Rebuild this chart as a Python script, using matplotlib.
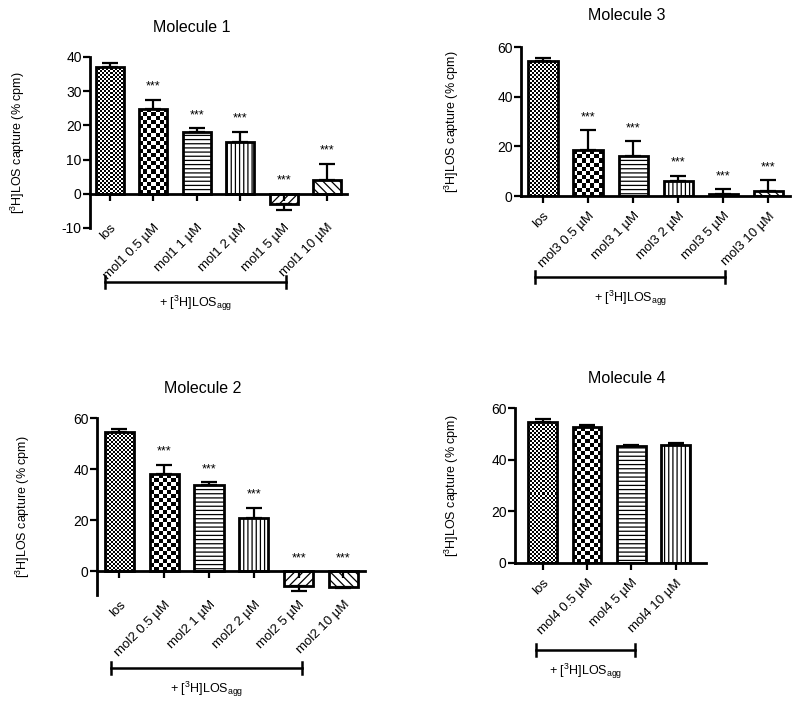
# [3H]LOS capture bar charts, four molecules

import numpy as np
import matplotlib
matplotlib.use("Agg")
import matplotlib.pyplot as plt
import matplotlib.transforms as mtransforms

plt.rcParams['font.family'] = ['Liberation Sans', 'DejaVu Sans']
plt.rcParams['mathtext.fontset'] = 'custom'
plt.rcParams['mathtext.rm'] = 'Liberation Sans'
plt.rcParams['mathtext.it'] = 'Liberation Sans:italic'
plt.rcParams['mathtext.bf'] = 'Liberation Sans:bold'
plt.rcParams['hatch.linewidth'] = 0.9
plt.rcParams['axes.unicode_minus'] = False

# ---- data ----
labels1 = ['los', 'mol1 0.5 µM', 'mol1 1 µM', 'mol1 2 µM', 'mol1 5 µM', 'mol1 10 µM']
mean1 = [37.2, 24.9, 18.2, 15.2, -3.1, 4.1]
err1 = [1.0, 2.6, 0.9, 3.0, 1.6, 4.7]
stars1 = ['', '***', '***', '***', '***', '***']

labels2 = ['los', 'mol2 0.5 µM', 'mol2 1 µM', 'mol2 2 µM', 'mol2 5 µM', 'mol2 10 µM']
mean2 = [54.7, 38.0, 33.6, 20.6, -5.7, -6.1]
err2 = [1.0, 3.7, 1.2, 4.2, 2.1, 0.4]
stars2 = ['', '***', '***', '***', '***', '***']

labels3 = ['los', 'mol3 0.5 µM', 'mol3 1 µM', 'mol3 2 µM', 'mol3 5 µM', 'mol3 10 µM']
mean3 = [54.5, 18.5, 16.1, 5.9, 0.8, 2.0]
err3 = [0.9, 7.9, 5.9, 2.3, 1.9, 4.3]
stars3 = ['', '***', '***', '***', '***', '***']

labels4 = ['los', 'mol4 0.5 µM', 'mol4 5 µM', 'mol4 10 µM']
mean4 = [54.5, 52.5, 45.4, 45.6]
err4 = [1.1, 0.8, 0.2, 0.9]
stars4 = ['', '', '', '']

# fill style per bar position: ('chk', cell px) or a hatch string
fills = [('chk', 2), ('chk', 4), '----', '||||', '////', '\\\\\\\\']

W, H = 800, 710
fig = plt.figure(figsize=(W / 100, H / 100), dpi=100)

# layout in pixels: axes box (left, right, top, bottom), limits, ticks, etc.
panels = [
    dict(title='Molecule 1', labels=labels1, mean=mean1, err=err1, stars=stars1,
         box=(90, 347, 57, 228), xlim=(-0.46, 5.46), ylim=(-10, 40),
         yticks=[-10, 0, 10, 20, 30, 40], pad=15, title_xy=(192, 28),
         ylab_x=18, brk_y=282, brk=(-0.12, 4.05)),
    dict(title='Molecule 3', labels=labels3, mean=mean3, err=err3, stars=stars3,
         box=(521, 790, 47, 196), xlim=(-0.49, 5.48), ylim=(0, 60),
         yticks=[0, 20, 40, 60], pad=5, title_xy=(627, 15),
         ylab_x=452, brk_y=277, brk=(-0.17, 4.04)),
    dict(title='Molecule 2', labels=labels2, mean=mean2, err=err2, stars=stars2,
         box=(97, 365, 418, 595), xlim=(-0.5, 5.48), ylim=(-9.4, 60),
         yticks=[0, 20, 40, 60], pad=15, title_xy=(203, 388),
         ylab_x=23, brk_y=668, brk=(-0.19, 4.08)),
    dict(title='Molecule 4', labels=labels4, mean=mean4, err=err4, stars=stars4,
         box=(515, 706, 408, 563), xlim=(-0.62, 3.68), ylim=(0, 60),
         yticks=[0, 20, 40, 60], pad=5, title_xy=(627, 379),
         ylab_x=452, brk_y=650, brk=(-0.15, 2.08)),
]

ylabel = r'[$^3$H]LOS capture (% cpm)'
agg_text = r'+ [$^3$H]LOS$_{\rm agg}$'


def checker_fill(ax, bar, cell):
    # checkerboard texture clipped to the bar
    x0, y0 = bar.get_x(), bar.get_y()
    x1, y1 = x0 + bar.get_width(), y0 + bar.get_height()
    p0 = ax.transData.transform((x0, min(y0, y1)))
    p1 = ax.transData.transform((x1, max(y0, y1)))
    nx = max(int(round(abs(p1[0] - p0[0]) / cell)), 1)
    ny = max(int(round(abs(p1[1] - p0[1]) / cell)), 1)
    ii, jj = np.indices((ny, nx))
    img = ((ii + jj) % 2).astype(float)
    im = ax.imshow(img, extent=[x0, x1, min(y0, y1), max(y0, y1)],
                   cmap='gray', vmin=0, vmax=1, interpolation='nearest',
                   aspect='auto', zorder=2)
    im.set_clip_path(bar)


for p in panels:
    l, r, t, b = p['box']
    ax = fig.add_axes([l / W, 1 - b / H, (r - l) / W, (b - t) / H])
    n = len(p['labels'])
    x = np.arange(n)
    mean = np.array(p['mean'])
    err = np.array(p['err'])

    bars = ax.bar(x, mean, width=0.65, facecolor='none', edgecolor='black',
                  linewidth=2, zorder=3)
    ax.set_xlim(*p['xlim'])
    ax.set_ylim(*p['ylim'])

    for i, bar in enumerate(bars):
        f = fills[i]
        if isinstance(f, tuple):
            checker_fill(ax, bar, f[1])
        else:
            bar.set_hatch(f)

    # one-sided error bars, pointing away from zero
    lo = np.where(mean < 0, err, 0)
    hi = np.where(mean >= 0, err, 0)
    ax.errorbar(x, mean, yerr=[lo, hi], fmt='none', ecolor='black',
                elinewidth=1.6, capsize=6, capthick=1.6, zorder=2.5)

    for i, s in enumerate(p['stars']):
        if s:
            ytop = max(mean[i] + hi[i], 0)
            ax.annotate(s, (x[i], ytop), xytext=(0, 5), textcoords='offset points',
                        ha='center', va='bottom', fontsize=9)

    ax.set_xlim(*p['xlim'])
    ax.set_ylim(*p['ylim'])

    for side in ['top', 'right']:
        ax.spines[side].set_visible(False)
    ax.spines['left'].set_linewidth(2)
    ax.spines['bottom'].set_linewidth(2)
    ax.spines['bottom'].set_position(('data', 0))

    ax.set_yticks(p['yticks'])
    ax.set_xticks(x)
    ax.set_xticklabels(p['labels'], rotation=45, ha='right', va='top',
                       rotation_mode='anchor', fontsize=9.5)
    ax.tick_params(axis='x', length=5, width=1.6, pad=p['pad'])
    ax.tick_params(axis='y', length=5, width=1.6, labelsize=10, pad=1)

    # panel title and y label
    fig.text(p['title_xy'][0] / W, 1 - p['title_xy'][1] / H, p['title'],
             ha='center', va='center', fontsize=11.5)
    fig.text(p['ylab_x'] / W, 1 - (t + b) / 2 / H, ylabel, rotation=90,
             ha='center', va='center', fontsize=9)

    # bracket under the group
    trans = mtransforms.blended_transform_factory(ax.transData, fig.transFigure)
    yb = 1 - p['brk_y'] / H
    xa, xb = p['brk']
    ax.plot([xa, xb], [yb, yb], color='black', lw=1.8, transform=trans,
            clip_on=False)
    for xe in (xa, xb):
        ax.plot([xe, xe], [yb - 6 / H, yb + 6 / H], color='black', lw=1.8,
                transform=trans, clip_on=False)
    ax.text((xa + xb) / 2, yb - 21 / H, agg_text, transform=trans,
            ha='center', va='center', fontsize=9)

fig.savefig('out.png', dpi=100)
